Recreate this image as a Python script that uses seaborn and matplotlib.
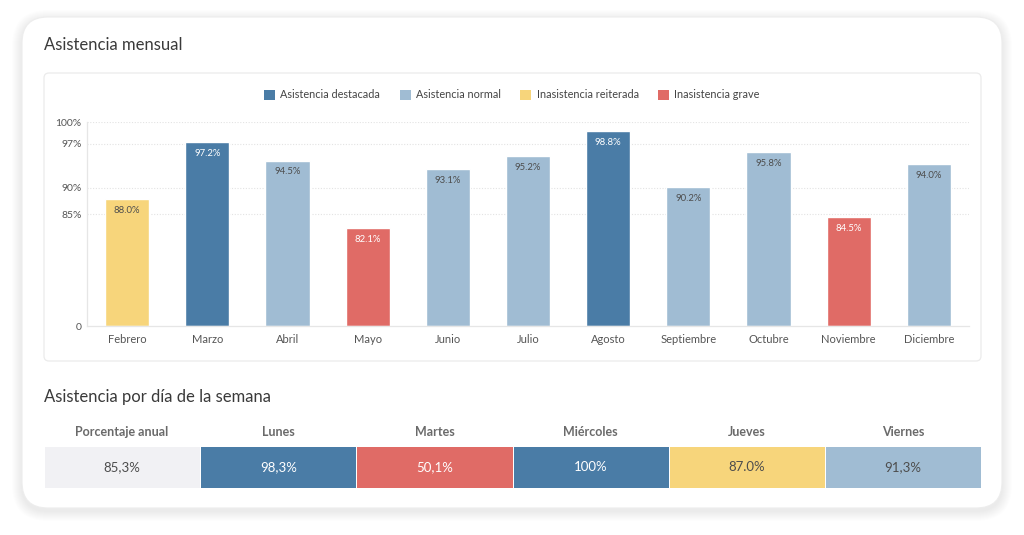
import numpy as np
import matplotlib.pyplot as plt
import seaborn as sns
from matplotlib.patches import FancyBboxPatch, Patch
from matplotlib.colors import ListedColormap, to_rgb

# Monthly attendance
months = ['Febrero', 'Marzo', 'Abril', 'Mayo', 'Junio', 'Julio', 'Agosto',
          'Septiembre', 'Octubre', 'Noviembre', 'Diciembre']
values = [88.0, 97.2, 94.5, 82.1, 93.1, 95.2, 98.8, 90.2, 95.8, 84.5, 94.0]
categories = ['Inasistencia reiterada', 'Asistencia destacada', 'Asistencia normal',
              'Inasistencia grave', 'Asistencia normal', 'Asistencia normal',
              'Asistencia destacada', 'Asistencia normal', 'Asistencia normal',
              'Inasistencia grave', 'Asistencia normal']
legend_order = ['Asistencia destacada', 'Asistencia normal',
                'Inasistencia reiterada', 'Inasistencia grave']
y_ticks = [0, 85, 90, 97, 100]
y_tick_labels = ['0', '85%', '90%', '97%', '100%']

# Weekday table
day_headers = ['Porcentaje anual', 'Lunes', 'Martes', 'Miércoles', 'Jueves', 'Viernes']
day_values = ['85,3%', '98,3%', '50,1%', '100%', '87.0%', '91,3%']
day_categories = ['Anual', 'Asistencia destacada', 'Inasistencia grave',
                  'Asistencia destacada', 'Inasistencia reiterada', 'Asistencia normal']

palette = {
    'Asistencia destacada': '#4a7ca6',
    'Asistencia normal': '#a0bcd3',
    'Inasistencia reiterada': '#f7d57b',
    'Inasistencia grave': '#e06b66',
    'Anual': '#f1f1f4',
}

sns.set_theme(style='white')
plt.rcParams['font.family'] = ['Lato', 'DejaVu Sans']

W, H = 1024, 535
fig = plt.figure(figsize=(W / 100, H / 100), dpi=100)
fig.patch.set_facecolor('white')

# background layer in pixel coordinates
bg = fig.add_axes([0, 0, 1, 1])
bg.set_xlim(0, W)
bg.set_ylim(H, 0)
bg.axis('off')
for i in range(10, 0, -1):
    bg.add_patch(FancyBboxPatch((22 - i, 17 - i + 3), 980 + 2 * i, 491 + 2 * i,
                                boxstyle='round,pad=0,rounding_size=%d' % (26 + i),
                                fc='#000000', ec='none', alpha=0.007))
bg.add_patch(FancyBboxPatch((22, 17), 980, 491, boxstyle='round,pad=0,rounding_size=26',
                            fc='white', ec='#ededed', lw=0.8))
bg.add_patch(FancyBboxPatch((44, 73), 937, 288, boxstyle='round,pad=0,rounding_size=5',
                            fc='white', ec='#ebebeb', lw=0.9))
bg.text(44, 45, 'Asistencia mensual', fontsize=12, color='#3a3a3a', va='center')
bg.text(44, 397, 'Asistencia por día de la semana', fontsize=12, color='#3a3a3a', va='center')

# bar chart with a compressed lower range
p = 3.7
def fwd(v):
    return 100 * (np.clip(v, 0, None) / 100) ** p
def inv(v):
    return 100 * (np.clip(v, 0, None) / 100) ** (1 / p)

ax = fig.add_axes([87 / W, 1 - 326 / H, 882 / W, 204 / H])
ax.set_yscale('function', functions=(fwd, inv))
sns.barplot(x=months, y=values, hue=categories, palette=palette, dodge=False,
            width=0.55, saturation=1, legend=False, ax=ax)
ax.set_ylim(0, 100)
ax.set_xlim(-0.5, len(months) - 0.5)
ax.set_yticks(y_ticks)
ax.set_yticklabels(y_tick_labels)
ax.yaxis.set_minor_locator(plt.NullLocator())
ax.tick_params(axis='both', length=0, labelsize=7.5, colors='#555555')
ax.tick_params(axis='x', pad=6, labelsize=8)
ax.tick_params(axis='y', pad=4)
for yv in y_ticks[1:]:
    ax.axhline(yv, color='#e3e3e3', lw=0.8, ls=(0, (1, 1.5)), zorder=0)
for side in ['top', 'right']:
    ax.spines[side].set_visible(False)
for side in ['left', 'bottom']:
    ax.spines[side].set_color('#e6e6e6')
    ax.spines[side].set_linewidth(0.9)
ax.set_facecolor('none')

for bar in ax.patches:
    h = bar.get_height()
    if h <= 0:
        continue
    r, g, b = to_rgb(bar.get_facecolor())
    lum = 0.299 * r + 0.587 * g + 0.114 * b
    col = 'white' if lum < 0.6 else '#4d4d4d'
    ax.annotate('%.1f%%' % h, (bar.get_x() + bar.get_width() / 2, h),
                xytext=(0, -5), textcoords='offset points', ha='center', va='top',
                fontsize=6.8, color=col)

handles = [Patch(facecolor=palette[c], edgecolor='none', label=c) for c in legend_order]
fig.legend(handles=handles, loc='center', bbox_to_anchor=(512 / W, 1 - 95 / H), ncol=4,
           frameon=False, fontsize=7.8, handlelength=1.0, handleheight=1.0,
           handletextpad=0.5, columnspacing=1.8, labelcolor='#444444')

# weekday table as a one-row heatmap
cat_list = ['Anual', 'Asistencia destacada', 'Asistencia normal',
            'Inasistencia reiterada', 'Inasistencia grave']
codes = np.array([[cat_list.index(c) for c in day_categories]])
cmap = ListedColormap([palette[c] for c in cat_list])
tax = fig.add_axes([44 / W, 1 - 488 / H, 937 / W, 42 / H])
sns.heatmap(codes, cmap=cmap, vmin=-0.5, vmax=len(cat_list) - 0.5, cbar=False,
            annot=np.array([day_values]), fmt='', annot_kws={'fontsize': 9.5},
            linewidths=0.4, linecolor='white', xticklabels=day_headers,
            yticklabels=False, ax=tax)
tax.xaxis.tick_top()
tax.tick_params(axis='x', length=0, pad=6, labelsize=9, colors='#6a6a6a')
for lbl in tax.get_xticklabels():
    lbl.set_fontweight('bold')
    lbl.set_rotation(0)
for t in tax.texts:
    if to_rgb(t.get_color()) != (1, 1, 1):
        t.set_color('#4d4d4d')

fig.savefig('out.png', dpi=100, facecolor='white')
